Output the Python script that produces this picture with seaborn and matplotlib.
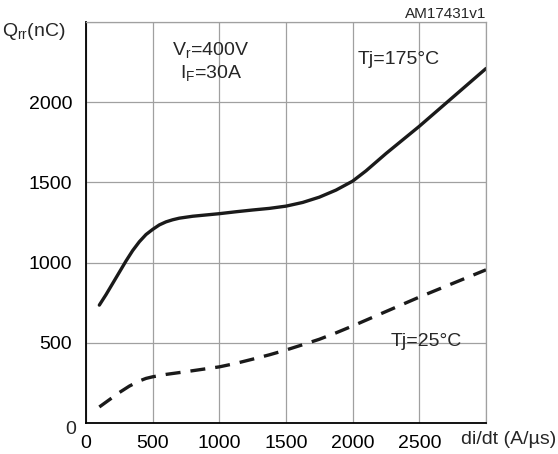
import matplotlib
matplotlib.use("Agg")
import matplotlib.pyplot as plt
import seaborn as sns
import pandas as pd

# Data
x_hot = [100, 150, 200, 250, 300, 350, 400, 450, 500, 550, 600, 650, 700, 800, 900, 1000,
         1125, 1250, 1375, 1500, 1625, 1750, 1875, 2000, 2100, 2250, 2500, 2750, 3000]
q_hot = [735, 800, 870, 940, 1010, 1075, 1130, 1175, 1207, 1235, 1254, 1267, 1277, 1289, 1297, 1305,
         1317, 1328, 1338, 1352, 1375, 1408, 1452, 1508, 1572, 1680, 1850, 2030, 2210]
x_cold = [100, 175, 250, 325, 400, 450, 500, 600, 750, 900, 1000, 1125, 1250, 1375, 1500,
          1625, 1750, 1875, 2000, 2250, 2500, 2750, 3000]
q_cold = [100, 145, 190, 230, 262, 278, 288, 303, 320, 338, 350, 372, 398, 425, 455,
          488, 522, 562, 605, 695, 785, 870, 955]
x_ticks = [0, 500, 1000, 1500, 2000, 2500]
y_ticks = [500, 1000, 1500, 2000]

sns.set_theme(style="white")
plt.rcParams['font.family'] = ['Liberation Sans', 'DejaVu Sans']
plt.rcParams['mathtext.fontset'] = 'custom'
plt.rcParams['mathtext.rm'] = 'Liberation Sans'
plt.rcParams['mathtext.it'] = 'Liberation Sans'

fig = plt.figure(figsize=(5.58, 4.54), dpi=100)
ax = fig.add_axes([86/558, 31/454, 400/558, 401/454])

df_hot = pd.DataFrame({"x": x_hot, "q": q_hot})
df_cold = pd.DataFrame({"x": x_cold, "q": q_cold})
sns.lineplot(data=df_hot, x="x", y="q", ax=ax, color="#1a1a1a", linewidth=2.4)
sns.lineplot(data=df_cold, x="x", y="q", ax=ax, color="#1a1a1a", linewidth=2.4)
ax.lines[-1].set_dashes([4.5, 3])
for ln in ax.lines:
    ln.set_solid_joinstyle("round")
    ln.set_dash_joinstyle("round")

ax.set_xlim(0, 3000)
ax.set_ylim(0, 2500)
ax.set_xticks(list(range(0, 3001, 500)))
ax.set_yticks(list(range(0, 2501, 500)))
ax.set_xticklabels([str(v) for v in x_ticks] + [""])
ax.set_yticklabels([""] + [str(v) for v in y_ticks] + [""])
ax.grid(True, color="#a0a0a0", linewidth=0.9)
ax.set_axisbelow(True)
ax.tick_params(axis="x", length=0, labelsize=14, colors="black", pad=9)
ax.tick_params(axis="y", length=0, labelsize=14, colors="black", pad=10)
ax.set_xlabel("")
ax.set_ylabel("")

for s in ["top", "right"]:
    ax.spines[s].set_color("#a0a0a0")
    ax.spines[s].set_linewidth(0.9)
for s in ["left", "bottom"]:
    ax.spines[s].set_color("black")
    ax.spines[s].set_linewidth(1.3)

# y-axis "0" label (offset like the reference)
fig.text(76/558, 1 - 429/454, "0", fontsize=14, ha="right", va="center")
fig.text(556/558, 1 - 440/454, "di/dt (A/µs)", fontsize=14, ha="right", va="center")
fig.text(2/558, 1 - 31/454, r"Q$_{\mathrm{rr}}$(nC)", fontsize=14, ha="left", va="center")
fig.text(486/558, 1 - 14/454, "AM17431v1", fontsize=11, ha="right", va="center")

fig.text(172/558, 1 - 50/454, r"V$_{\mathrm{r}}$=400V", fontsize=14, ha="left", va="center")
fig.text(180/558, 1 - 73/454, r"I$_{\mathrm{F}}$=30A", fontsize=14, ha="left", va="center")
fig.text(358/558, 1 - 60/454, "Tj=175°C", fontsize=14, ha="left", va="center")
fig.text(391/558, 1 - 342/454, "Tj=25°C", fontsize=14, ha="left", va="center")

fig.savefig("out.png", dpi=100)
